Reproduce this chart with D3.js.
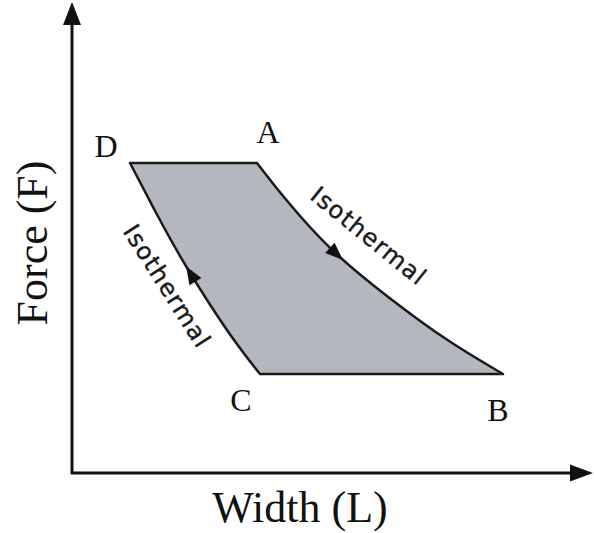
<!DOCTYPE html>
<html><head><meta charset="utf-8">
<script src="https://cdn.jsdelivr.net/npm/d3@7/dist/d3.min.js"></script>
<style>body{margin:0;background:#fff}svg{display:block}</style>
</head><body><svg id="c" width="594" height="533"></svg>
<script>
// Cycle corners (Width L, Force F), arbitrary units
const cornerNames = ["D", "A", "B", "C"];
const cornerL = [11.6, 37.0, 86.2, 37.6];
const cornerF = [68.9, 68.9, 22.0, 22.0];
// Isotherm A -> B
const isoAB_L = [37.0, 41.6, 51.6, 63.6, 75.0, 86.2];
const isoAB_F = [68.9, 62.2, 49.3, 38.7, 29.3, 22.0];
// Isotherm C -> D
const isoCD_L = [37.6, 33.0, 27.2, 21.6, 16.6, 11.6];
const isoCD_F = [22.0, 28.4, 38.0, 48.0, 58.2, 68.9];
const xTitle = "Width (L)";
const yTitle = "Force (F)";
const curveLabel = "Isothermal";

const svg = d3.select("#c");
const x = d3.scaleLinear().domain([0, 100]).range([72, 572]);
const y = d3.scaleLinear().domain([0, 100]).range([473, 23]);

// axes with arrowheads
const axisColor = "#111";
svg.append("line").attr("x1", x(0)).attr("y1", y(0) + 1).attr("x2", x(0)).attr("y2", 20)
  .attr("stroke", axisColor).attr("stroke-width", 3);
svg.append("path").attr("d", `M${x(0)},2 L${x(0) - 9},25 L${x(0) + 9},25 Z`).attr("fill", axisColor);
svg.append("line").attr("x1", x(0) - 1).attr("y1", y(0)).attr("x2", 575).attr("y2", y(0))
  .attr("stroke", axisColor).attr("stroke-width", 3);
svg.append("path").attr("d", `M593,${y(0)} L570,${y(0) - 8.5} L570,${y(0) + 8.5} Z`).attr("fill", axisColor);

// cycle region
const ab = isoAB_L.map((l, i) => [x(l), y(isoAB_F[i])]);
const cd = isoCD_L.map((l, i) => [x(l), y(isoCD_F[i])]);
const curveGen = d3.line().curve(d3.curveBasis);
const abPath = curveGen(ab);
const cdPath = curveGen(cd);
const full = `M${x(cornerL[0])},${y(cornerF[0])} L${x(cornerL[1])},${y(cornerF[1])} ` +
  abPath.replace(/^M/, "L") +
  ` L${x(cornerL[3])},${y(cornerF[3])} ` + cdPath.replace(/^M/, "L") + " Z";
svg.append("path").attr("d", full).attr("fill", "#b5b7be")
  .attr("stroke", "#1a1a1a").attr("stroke-width", 2.5).attr("stroke-linejoin", "round");

// direction arrows on isotherms
function arrowAt(pathStr, frac) {
  const p = svg.append("path").attr("d", pathStr).attr("fill", "none").attr("stroke", "none");
  const node = p.node(); const len = node.getTotalLength();
  const a = node.getPointAtLength(len * frac), b = node.getPointAtLength(len * frac + 1);
  const ang = Math.atan2(b.y - a.y, b.x - a.x) * 180 / Math.PI;
  svg.append("path").attr("d", "M9,0 L-9,-7 L-9,7 Z").attr("fill", "#111")
    .attr("transform", `translate(${a.x},${a.y}) rotate(${ang})`);
  p.remove();
}
arrowAt(abPath, 0.37);
arrowAt(cdPath, 0.49);

// corner letters
const serif = "'Liberation Serif','Times New Roman',serif";
const cornerOffsets = [[-24, -6], [11, -20], [-5, 47], [-19, 37]];
cornerNames.forEach((n, i) => {
  svg.append("text").attr("x", x(cornerL[i]) + cornerOffsets[i][0]).attr("y", y(cornerF[i]) + cornerOffsets[i][1])
    .attr("text-anchor", "middle").attr("font-family", serif).attr("font-size", 32).attr("fill", "#111").text(n);
});

// isotherm labels
const sans = "'DejaVu Sans',sans-serif";
[[368, 237, 39], [166, 287, 57.5]].forEach(([cx, cy, r]) => {
  svg.append("text").attr("transform", `translate(${cx},${cy}) rotate(${r})`).attr("text-anchor", "middle")
    .attr("dominant-baseline", "middle").attr("font-family", sans).attr("font-size", 24)
    .attr("letter-spacing", 1.3).attr("fill", "#1a1a1a")
    .attr("stroke", "#1a1a1a").attr("stroke-width", 0.4).text(curveLabel);
});

// axis titles
svg.append("text").attr("x", 300).attr("y", 522).attr("text-anchor", "middle")
  .attr("font-family", serif).attr("font-size", 44).attr("fill", "#111").text(xTitle);
svg.append("text").attr("transform", "translate(47,243) rotate(-90)").attr("text-anchor", "middle")
  .attr("font-family", serif).attr("font-size", 44).attr("fill", "#111").text(yTitle);
</script></body></html>
